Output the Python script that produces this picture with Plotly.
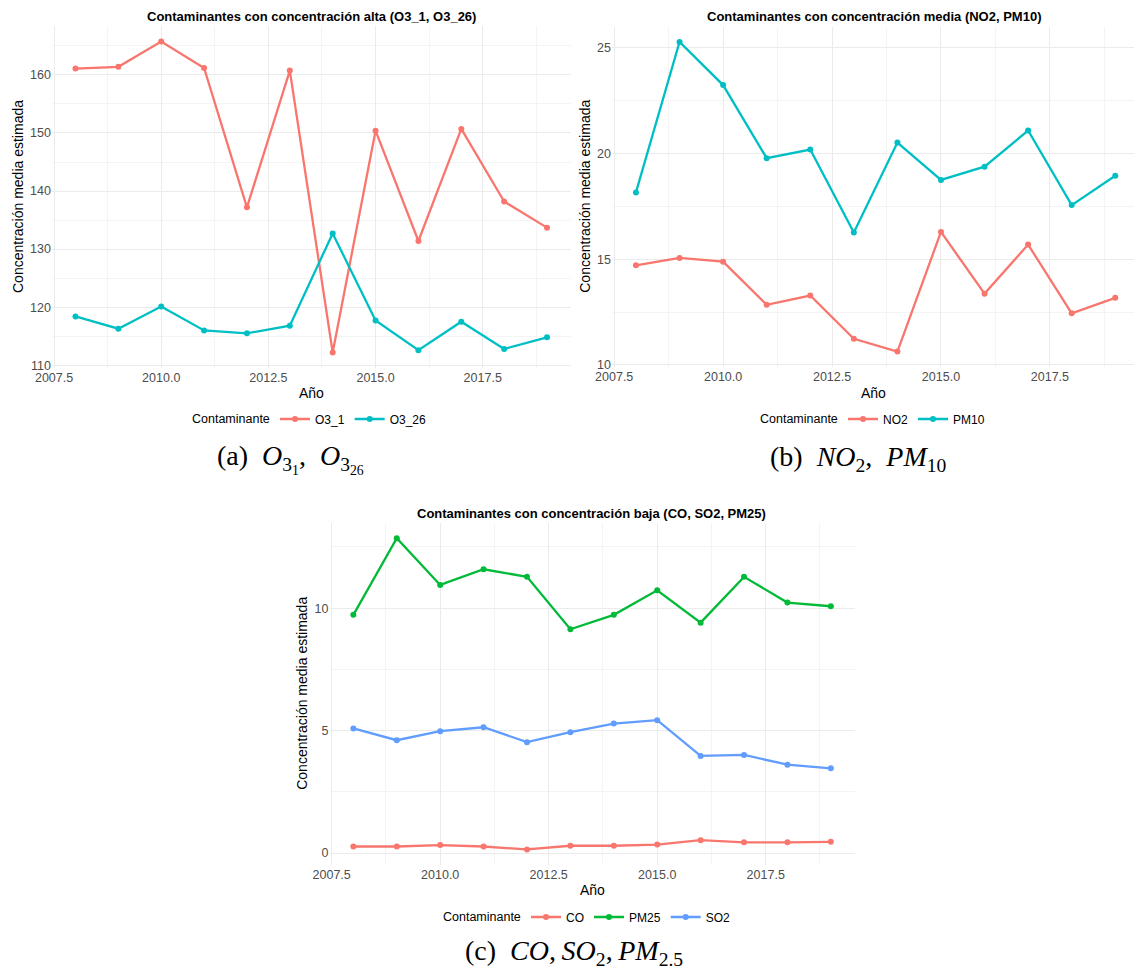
import plotly.graph_objects as go

# ---- data ---------------------------------------------------------------
years = [2008, 2009, 2010, 2011, 2012, 2013, 2014, 2015, 2016, 2017, 2018, 2019]

o3_1 = [161.1, 161.4, 165.75, 161.2, 137.2, 160.75, 112.2, 150.4, 131.4, 150.7, 138.2, 133.7]
o3_26 = [118.4, 116.3, 120.1, 116.0, 115.5, 116.8, 132.7, 117.7, 112.6, 117.5, 112.8, 114.8]

no2 = [14.71, 15.06, 14.88, 12.84, 13.28, 11.23, 10.63, 16.29, 13.37, 15.69, 12.44, 13.17]
pm10 = [18.16, 25.28, 23.24, 19.78, 20.19, 16.26, 20.52, 18.75, 19.38, 21.09, 17.56, 18.95]

co = [0.27, 0.27, 0.33, 0.27, 0.15, 0.30, 0.30, 0.35, 0.53, 0.44, 0.44, 0.46]
pm25 = [9.73, 12.86, 10.95, 11.59, 11.28, 9.14, 9.73, 10.73, 9.41, 11.28, 10.23, 10.08]
so2 = [5.09, 4.61, 4.98, 5.14, 4.53, 4.94, 5.29, 5.43, 3.97, 4.01, 3.61, 3.46]

# ---- page geometry ----------------------------------------------------------
W, H = 1134, 969
RED, TEAL = "#F8766D", "#00BFC4"
GREEN, BLUE = "#00BA38", "#619CFF"
SANS = "Liberation Sans, Arial, sans-serif"
SERIF = "Liberation Serif, Times New Roman, serif"
THIN = "\u2009"


def px(x):
    return x / W


def py(y):
    return 1 - y / H


def expanded(values, frac=0.05):
    lo, hi = min(values), max(values)
    pad = (hi - lo) * frac
    return [lo - pad, hi + pad]


year_range = expanded(years)

fig = go.Figure()

panels = [
    dict(ax="", leg="legend", series=[("O3_1", o3_1, RED), ("O3_26", o3_26, TEAL)],
         xr=(51.9, 570.6), xrange=year_range, yr=(26, 368), dtick=10,
         title="Contaminantes con concentración alta (O3_1, O3_26)",
         tx=311, ty=16, ytx=18, xty=393, ltr=272, ly=419,
         cap="(a)  <i>O</i><sub>3<sub>1</sub></sub>,  <i>O</i><sub>3<sub>26</sub></sub>",
         cx=290, cy=459),
    # the right-hand panel runs into the page edge, so its year axis is cut short
    dict(ax="2", leg="legend2", series=[("NO2", no2, RED), ("PM10", pm10, TEAL)],
         xr=(612, 1134), xrange=[year_range[0], 2019.43], yr=(26.5, 367), dtick=5,
         title="Contaminantes con concentración media (NO2, PM10)",
         tx=874, ty=16, ytx=585, xty=393, ltr=840, ly=419,
         cap="(b)  <i>NO</i><sub>2</sub>,  <i>PM</i><sub>10</sub>", cx=858, cy=459),
    dict(ax="3", leg="legend3", series=[("CO", co, RED), ("PM25", pm25, GREEN), ("SO2", so2, BLUE)],
         xr=(329.5, 854.7), xrange=year_range, yr=(522.6, 865), dtick=5,
         title="Contaminantes con concentración baja (CO, SO2, PM25)",
         tx=591, ty=513, ytx=302, xty=890, ltr=523, ly=917,
         cap="(c)  <i>CO</i>," + THIN + "<i>SO</i><sub>2</sub>," + THIN + "<i>PM</i><sub>2.5</sub>",
         cx=574, cy=952),
]

annotations = []
layout_upd = {}
grid_major = "#EBEBEB"
grid_minor = "#F4F4F4"
tick_font = dict(family=SANS, size=12.5, color="#4D4D4D")

for p in panels:
    xa = "x" + p["ax"]
    ya = "y" + p["ax"]
    all_vals = []
    for name, vals, col in p["series"]:
        all_vals += vals
        fig.add_trace(go.Scatter(
            x=years, y=vals, name=name, mode="lines+markers",
            line=dict(color=col, width=2.3), marker=dict(color=col, size=6),
            xaxis=xa, yaxis=ya, legend=p["leg"], showlegend=True,
        ))

    layout_upd["xaxis" + p["ax"]] = dict(
        domain=[px(p["xr"][0]), px(p["xr"][1])],
        anchor=ya, range=p["xrange"], tick0=2007.5, dtick=2.5,
        tickformat=".1f", showgrid=True, gridcolor=grid_major, gridwidth=1,
        zeroline=False, showline=False, ticks="", automargin=False,
        tickfont=tick_font,
        minor=dict(tick0=2007.5, dtick=1.25, showgrid=True,
                   gridcolor=grid_minor, gridwidth=1),
    )
    layout_upd["yaxis" + p["ax"]] = dict(
        domain=[py(p["yr"][1]), py(p["yr"][0])],
        anchor=xa, range=expanded(all_vals), tick0=0, dtick=p["dtick"],
        showgrid=True, gridcolor=grid_major, gridwidth=1,
        zeroline=False, showline=False, ticks="", automargin=False,
        tickfont=tick_font,
        minor=dict(tick0=0, dtick=p["dtick"] / 2, showgrid=True,
                   gridcolor=grid_minor, gridwidth=1),
    )
    layout_upd[p["leg"]] = dict(
        orientation="h", x=px(p["ltr"] + 3), y=py(p["ly"]),
        xanchor="left", yanchor="middle",
        font=dict(family=SANS, size=12, color="black"),
        itemwidth=30, bgcolor="rgba(0,0,0,0)",
    )

    annotations += [
        dict(text="<b>" + p["title"] + "</b>", x=px(p["tx"]), y=py(p["ty"]),
             xref="paper", yref="paper", showarrow=False,
             xanchor="center", yanchor="middle",
             font=dict(family=SANS, size=13, color="black")),
        dict(text="Concentración media estimada", x=px(p["ytx"]),
             y=py((p["yr"][0] + p["yr"][1]) / 2), textangle=-90,
             xref="paper", yref="paper", showarrow=False,
             xanchor="center", yanchor="middle",
             font=dict(family=SANS, size=14, color="black")),
        dict(text="Año", x=px((p["xr"][0] + p["xr"][1]) / 2), y=py(p["xty"]),
             xref="paper", yref="paper", showarrow=False,
             xanchor="center", yanchor="middle",
             font=dict(family=SANS, size=14, color="black")),
        dict(text="Contaminante", x=px(p["ltr"]), y=py(p["ly"]),
             xref="paper", yref="paper", showarrow=False,
             xanchor="right", yanchor="middle",
             font=dict(family=SANS, size=12.5, color="black")),
        dict(text=p["cap"], x=px(p["cx"]), y=py(p["cy"]),
             xref="paper", yref="paper", showarrow=False,
             xanchor="center", yanchor="middle",
             font=dict(family=SERIF, size=28, color="black")),
    ]

fig.update_layout(
    width=W, height=H, margin=dict(l=0, r=0, t=0, b=0, pad=0),
    paper_bgcolor="white", plot_bgcolor="white",
    annotations=annotations, **layout_upd,
)

fig.write_html("out.html")
